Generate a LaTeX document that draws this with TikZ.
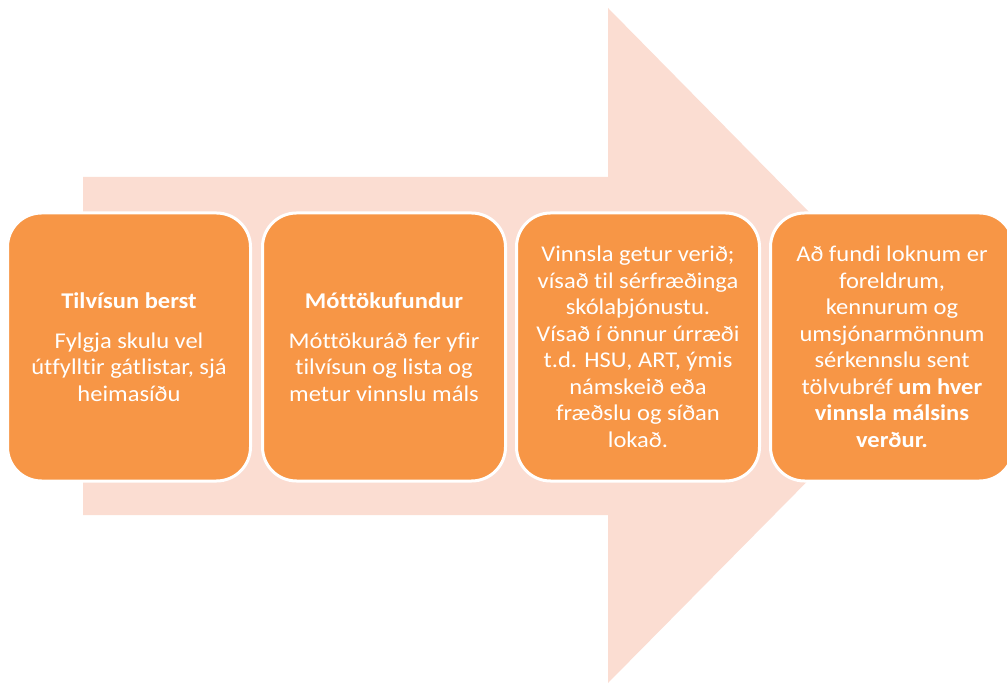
\documentclass[tikz,border=0pt]{standalone}
\usepackage{fontspec}
\setmainfont[FakeStretch=1.09,Ligatures={NoCommon,NoContextual}]{Carlito}
\definecolor{arrowpeach}{HTML}{FBDDD2}
\definecolor{boxorange}{HTML}{F79646}
\tikzset{
  stepbox/.style={draw=white, line width=3pt, fill=boxorange, rounded corners=34pt,
    minimum width=243pt, minimum height=268pt, align=center, text=white,
    font=\fontsize{22.5}{26.5}\selectfont, inner sep=0pt}
}
\begin{document}
\begin{tikzpicture}[x=1pt,y=-1pt]
\useasboundingbox (0,0) rectangle (1007,684);
\fill[arrowpeach] (83,177) -- (608,177) -- (608,8) -- (941,346) -- (608,683) -- (608,515) -- (83,515) -- cycle;
\node[stepbox] (b1) at (129,347) {\textbf{Tilvísun berst}\\[13.5pt]Fylgja skulu vel\\útfylltir gátlistar, sjá\\heimasíðu};
\node[stepbox] (b2) at (384,347) {\textbf{Móttökufundur}\\[13.5pt]Móttökuráð fer yfir\\tilvísun og lista og\\metur vinnslu máls};
\node[stepbox] (b3) at (638,347) {Vinnsla getur verið;\\vísað til sérfræðinga\\skólaþjónustu.\\Vísað í önnur úrræði\\t.d. HSU, ART, ýmis\\námskeið eða\\fræðslu og síðan\\lokað.};
\node[stepbox] (b4) at (892,347) {Að fundi loknum er\\foreldrum,\\kennurum og\\umsjónarmönnum\\sérkennslu sent\\tölvubréf \textbf{um hver}\\\textbf{vinnsla málsins}\\\textbf{verður.}};
\end{tikzpicture}
\end{document}
